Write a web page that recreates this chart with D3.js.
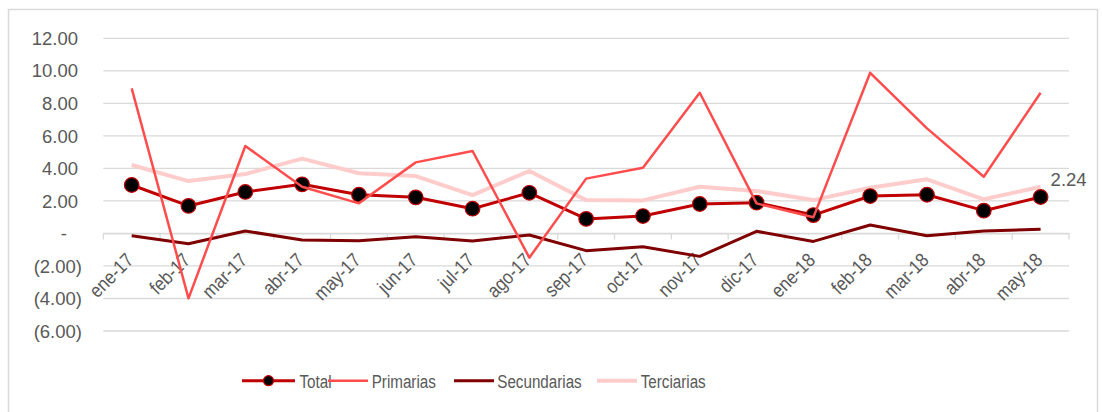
<!DOCTYPE html>
<html>
<head>
<meta charset="utf-8">
<script src="https://cdn.jsdelivr.net/npm/d3@7/dist/d3.min.js"></script>
<style>
  html, body { margin: 0; padding: 0; background: #fff; }
  svg { display: block; }
  text { font-family: "Liberation Sans", Arial, sans-serif; fill: #595959; }
</style>
</head>
<body>
<svg id="chart" width="1102" height="412"></svg>
<script>
const categories = ["ene-17","feb-17","mar-17","abr-17","may-17","jun-17","jul-17","ago-17","sep-17","oct-17","nov-17","dic-17","ene-18","feb-18","mar-18","abr-18","may-18"];
const total      = [2.98, 1.69, 2.55, 3.02, 2.38, 2.22, 1.52, 2.50, 0.89, 1.07, 1.81, 1.89, 1.13, 2.30, 2.38, 1.40, 2.24];
const primarias  = [8.92, -3.99, 5.38, 2.87, 1.85, 4.37, 5.07, -1.49, 3.37, 4.04, 8.65, 1.85, 0.99, 9.88, 6.46, 3.49, 8.65];
const secundarias= [-0.14, -0.63, 0.15, -0.41, -0.45, -0.20, -0.47, -0.10, -1.06, -0.82, -1.41, 0.13, -0.49, 0.52, -0.14, 0.15, 0.25];
const terciarias = [4.21, 3.22, 3.65, 4.60, 3.70, 3.53, 2.36, 3.84, 2.05, 2.03, 2.87, 2.61, 2.05, 2.81, 3.33, 2.10, 2.87];
const yTicks     = [12, 10, 8, 6, 4, 2, 0, -2, -4, -6];
const seriesNames = ["Total", "Primarias", "Secundarias", "Terciarias"];
const lastLabel = "2.24";

const colors = { Total: "#C00000", Primarias: "#FF4D4D", Secundarias: "#7F0000", Terciarias: "#FFCCCC" };
const widths = { Total: 3, Primarias: 2.5, Secundarias: 3, Terciarias: 4 };

const svg = d3.select("#chart");

// chart border
svg.append("rect").attr("x", 8.5).attr("y", 9.5).attr("width", 1089).attr("height", 420)
  .attr("fill", "none").attr("stroke", "#d9d9d9").attr("stroke-width", 1.5);

const plot = { left: 103.3, right: 1069, top: 38.3, bottom: 331 };

const x = d3.scaleBand().domain(categories).range([plot.left, plot.right]).padding(0);
const xc = c => x(c) + x.bandwidth() / 2;
const y = d3.scaleLinear().domain([-6, 12]).range([plot.bottom, plot.top]);

// gridlines
svg.append("g").selectAll("line").data(yTicks).join("line")
  .attr("x1", plot.left).attr("x2", plot.right)
  .attr("y1", d => y(d)).attr("y2", d => y(d))
  .attr("stroke", "#d9d9d9").attr("stroke-width", 1.3);

// y labels (accounting format)
const fmt = d => d === 0 ? "-" : (d < 0 ? "(" + d3.format(".2f")(-d) + ")" : d3.format(".2f")(d));
svg.append("g").selectAll("text").data(yTicks).join("text")
  .attr("x", d => d === 0 ? 67 : (d < 0 ? 82 : 78))
  .attr("y", d => y(d))
  .attr("dy", "0.36em")
  .attr("text-anchor", "end")
  .style("font-size", "18.5px")
  .text(fmt);

// category axis at zero with tick marks at boundaries
const xAxis = d3.axisBottom(x).tickSize(0).tickFormat("");
const axG = svg.append("g").attr("transform", `translate(0,${y(0)})`).call(xAxis);
axG.select(".domain").attr("stroke", "#d9d9d9").attr("stroke-width", 1.3);
const bounds = categories.map(c => x(c)).concat([plot.right]);
svg.append("g").selectAll("line").data(bounds).join("line")
  .attr("x1", d => d).attr("x2", d => d)
  .attr("y1", y(0)).attr("y2", y(0) + 6)
  .attr("stroke", "#d9d9d9").attr("stroke-width", 1.3);

// category labels rotated
svg.append("g").selectAll("text").data(categories).join("text")
  .attr("transform", d => `translate(${xc(d) + 3},${y(0) + 28}) rotate(-45) scale(0.87,1)`)
  .attr("text-anchor", "end")
  .style("font-size", "19.5px")
  .text(d => d);

const dataMap = { Total: total, Primarias: primarias, Secundarias: secundarias, Terciarias: terciarias };
const line = d3.line().x((d, i) => xc(categories[i])).y(d => y(d));

const drawOrder = ["Terciarias", "Secundarias", "Total", "Primarias"];
drawOrder.forEach(name => {
  const g = svg.append("g");
  g.append("path").datum(dataMap[name]).attr("d", line)
    .attr("fill", "none").attr("stroke", colors[name]).attr("stroke-width", widths[name])
    .attr("stroke-linejoin", "round");
  if (name === "Total") {
    g.selectAll("circle").data(total).join("circle")
      .attr("cx", (d, i) => xc(categories[i])).attr("cy", d => y(d))
      .attr("r", 7.3).attr("fill", "#000").attr("stroke", colors.Total).attr("stroke-width", 1.2);
  }
});

// data label on last Total point
const li = total.length - 1;
svg.append("text")
  .attr("x", xc(categories[li]) + 10)
  .attr("y", y(total[li]) - 11.5)
  .style("font-size", "18.5px")
  .text(lastLabel);

// legend
const legendItems = [
  { name: "Total", x1: 242, x2: 295, tx: 299.5 },
  { name: "Primarias", x1: 328, x2: 368, tx: 371.7 },
  { name: "Secundarias", x1: 454, x2: 494, tx: 497.3 },
  { name: "Terciarias", x1: 597, x2: 637, tx: 640.7 }
];
const ly = 380.7;
const lg = svg.append("g");
legendItems.forEach(it => {
  lg.append("line").attr("x1", it.x1).attr("x2", it.x2).attr("y1", ly).attr("y2", ly)
    .attr("stroke", colors[it.name]).attr("stroke-width", widths[it.name]);
  if (it.name === "Total") {
    lg.append("circle").attr("cx", (it.x1 + it.x2) / 2).attr("cy", ly).attr("r", 5)
      .attr("fill", "#000").attr("stroke", colors.Total).attr("stroke-width", 1.2);
  }
  lg.append("text")
    .attr("transform", `translate(${it.tx},${ly}) scale(0.8,1)`)
    .attr("dy", "0.36em")
    .style("font-size", "19px")
    .text(it.name);
});
</script>
</body>
</html>
